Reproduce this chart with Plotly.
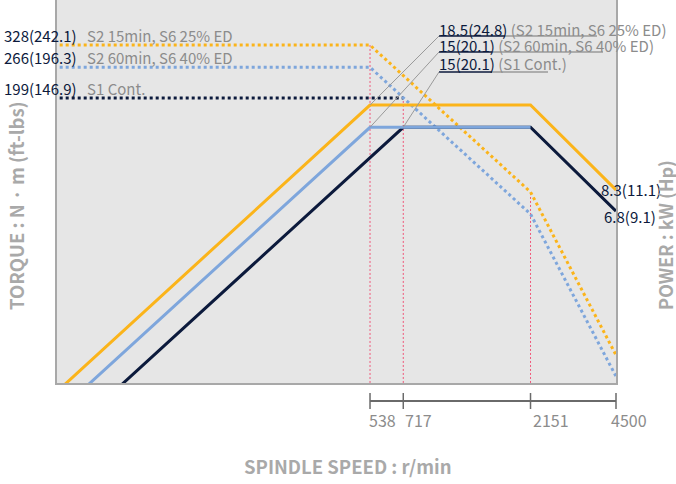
import math
import plotly.graph_objects as go

# ---------------- data ----------------
speed_ticks = [538, 717, 2151, 4500]
tick_labels = ["538", "717", "2151", "4500"]

# Torque curves (N·m)
s2_15_t_speed = [30, 538, 2151, 4500]
s2_15_torque = [328, 328, 82, 17.6]
s2_60_t_speed = [30, 538, 2151, 4500]
s2_60_torque = [266, 266, 66.6, 14.4]
s1_t_speed = [30, 717]
s1_torque = [199, 199]

# Power curves (kW)
s2_15_p_speed = [30, 538, 2151, 4500]
s2_15_power = [1.03, 18.5, 18.5, 8.3]
s2_60_p_speed = [30, 538, 2151]
s2_60_power = [0.84, 15, 15]
s1_p_speed = [40, 717, 2151, 4500]
s1_power = [0.84, 15, 15, 6.8]

# Base-speed guide lines (speed, torque reached)
guide_speed = [538, 717, 2151]
guide_torque = [328, 199, 82]

torque_values = [328, 266, 199]
torque_labels = ["328(242.1)", "266(196.3)", "199(146.9)"]
rating_names = ["S2 15min, S6 25% ED", "S2 60min, S6 40% ED", "S1 Cont."]
corner_speed = [538, 538, 717]
corner_power = [18.5, 15, 15]
power_labels = ["18.5(24.8)", "15(20.1)", "15(20.1)"]
end_values = [8.3, 6.8]
end_labels = ["8.3(11.1)", "6.8(9.1)"]

# ---------------- style ----------------
ORANGE = "#fbb41a"
BLUE = "#7ea6dc"
NAVY = "#0c1a3c"
RED = "#f0587a"
GRAY_TXT = "#8c8c8c"
TITLE_GRAY = "#a9a9a9"
FRAME = "#a8a8a8"
FONT = "Noto Sans CJK KR, Noto Sans, sans-serif"
LBL = 15

W, H = 676, 484
ML, MR, MT, MB = 57, 60, 0, 101
PW, PH = W - ML - MR, H - MT - MB

X_RANGE = [1.557, 3.6532]
T_RANGE = [1.131, 2.7007]
P_RANGE = [0.128, 1.6977]


def paper_x_px(px):
    return (px - ML) / PW


def paper_y_px(py):
    return (MT + PH - py) / PH


def xpaper(v):
    return (math.log10(v) - X_RANGE[0]) / (X_RANGE[1] - X_RANGE[0])


def ppaper(v):
    return (math.log10(v) - P_RANGE[0]) / (P_RANGE[1] - P_RANGE[0])


fig = go.Figure()

# guide lines
for s, t in zip(guide_speed, guide_torque):
    fig.add_trace(go.Scatter(x=[s, s], y=[1, t], mode="lines", yaxis="y",
                             line=dict(color=RED, width=1, dash="2px,2px"),
                             hoverinfo="skip", showlegend=False))

# torque (dotted)
for xs, ys, c in [(s1_t_speed, s1_torque, NAVY),
                  (s2_60_t_speed, s2_60_torque, BLUE),
                  (s2_15_t_speed, s2_15_torque, ORANGE)]:
    fig.add_trace(go.Scatter(x=xs, y=ys, mode="lines", yaxis="y",
                             line=dict(color=c, width=3, dash="dot"),
                             showlegend=False))

# power (solid)
for xs, ys, c in [(s2_15_p_speed, s2_15_power, ORANGE),
                  (s1_p_speed, s1_power, NAVY),
                  (s2_60_p_speed, s2_60_power, BLUE)]:
    fig.add_trace(go.Scatter(x=xs, y=ys, mode="lines", yaxis="y2",
                             line=dict(color=c, width=3),
                             showlegend=False))

ann = []
shapes = []

# left torque labels
for v, lab, name in zip(torque_values, torque_labels, rating_names):
    ann.append(dict(x=paper_x_px(2), xref="paper", y=math.log10(v), yref="y",
                    yshift=10, xanchor="left", yanchor="middle", showarrow=False,
                    text=lab, font=dict(family=FONT, size=LBL, color=NAVY)))
    ann.append(dict(x=paper_x_px(85), xref="paper", y=math.log10(v), yref="y",
                    yshift=10, xanchor="left", yanchor="middle", showarrow=False,
                    text=name, font=dict(family=FONT, size=LBL, color=GRAY_TXT)))

# top power labels with leader lines
label_y = [29, 45, 64]
line_y = [36, 52, 72]
num_end = [505, 492, 492]
ul_end = [597, 603, 548]
for i in range(3):
    ann.append(dict(x=paper_x_px(437), xref="paper", y=paper_y_px(label_y[i]), yref="paper",
                    xanchor="left", yanchor="middle", showarrow=False,
                    text=f"{power_labels[i]} <span style='color:{GRAY_TXT}'>({rating_names[i]})</span>",
                    font=dict(family=FONT, size=LBL, color=NAVY)))
    y0 = paper_y_px(line_y[i])
    shapes.append(dict(type="line", xref="paper", yref="paper",
                       x0=paper_x_px(439), x1=paper_x_px(num_end[i]), y0=y0, y1=y0,
                       line=dict(color=NAVY, width=1.5)))
    shapes.append(dict(type="line", xref="paper", yref="paper",
                       x0=paper_x_px(num_end[i]), x1=paper_x_px(ul_end[i]), y0=y0, y1=y0,
                       line=dict(color="#9a9a9a", width=1.5)))
    shapes.append(dict(type="line", xref="paper", yref="paper",
                       x0=paper_x_px(439), y0=y0,
                       x1=xpaper(corner_speed[i]), y1=ppaper(corner_power[i]),
                       line=dict(color="#9a9a9a", width=1)))

# right end labels
end_x = [599, 602]
end_shift = [0, -5]
for v, lab, xx, sh in zip(end_values, end_labels, end_x, end_shift):
    ann.append(dict(x=paper_x_px(xx), xref="paper", y=math.log10(v), yref="y2",
                    yshift=sh, xanchor="left", yanchor="middle", showarrow=False,
                    text=lab, font=dict(family=FONT, size=LBL, color=NAVY)))

# custom speed axis below the plot
ay = paper_y_px(401)
shapes.append(dict(type="line", xref="paper", yref="paper",
                   x0=xpaper(speed_ticks[0]), x1=xpaper(speed_ticks[-1]), y0=ay, y1=ay,
                   line=dict(color="#6a6a6a", width=2)))
tick_shift = [-3, 0, 0, -7]
for v, lab, sh in zip(speed_ticks, tick_labels, tick_shift):
    shapes.append(dict(type="line", xref="paper", yref="paper",
                       x0=xpaper(v), x1=xpaper(v), y0=paper_y_px(393), y1=paper_y_px(409),
                       line=dict(color="#6a6a6a", width=1.5)))
    ann.append(dict(x=xpaper(v), xref="paper", y=paper_y_px(420), yref="paper",
                    xshift=sh, xanchor="left", yanchor="middle", showarrow=False,
                    text=lab, font=dict(family=FONT, size=16, color=GRAY_TXT)))

# axis titles
ann.append(dict(x=paper_x_px(348), y=paper_y_px(466), xref="paper", yref="paper",
                xanchor="center", yanchor="middle",
                showarrow=False, text="<b>SPINDLE SPEED : r/min</b>",
                font=dict(family=FONT, size=18.5, color=TITLE_GRAY)))
ann.append(dict(x=paper_x_px(16), y=paper_y_px(206), xref="paper", yref="paper",
                xanchor="center", yanchor="middle",
                showarrow=False, textangle=-90, text="<b>TORQUE : N · m (ft-lbs)</b>",
                font=dict(family=FONT, size=18.5, color=TITLE_GRAY)))
ann.append(dict(x=paper_x_px(665), y=paper_y_px(235), xref="paper", yref="paper",
                xanchor="center", yanchor="middle",
                showarrow=False, textangle=-90, text="<b>POWER : kW (Hp)</b>",
                font=dict(family=FONT, size=18, color=TITLE_GRAY)))

axis_common = dict(type="log", showgrid=False, zeroline=False, showticklabels=False,
                   ticks="", showline=True, linecolor=FRAME, linewidth=2)

fig.update_layout(
    width=W, height=H, autosize=False,
    margin=dict(l=ML, r=MR, t=MT, b=MB, pad=0),
    paper_bgcolor="white", plot_bgcolor="#e6e6e6",
    xaxis=dict(range=X_RANGE, **axis_common),
    yaxis=dict(range=T_RANGE, **axis_common),
    yaxis2=dict(range=P_RANGE, overlaying="y", side="right", **axis_common),
    annotations=ann, shapes=shapes, showlegend=False,
)

fig.write_html("out.html", config={"displayModeBar": False},
               post_script="document.body.style.margin='0';document.body.style.overflow='hidden';")
